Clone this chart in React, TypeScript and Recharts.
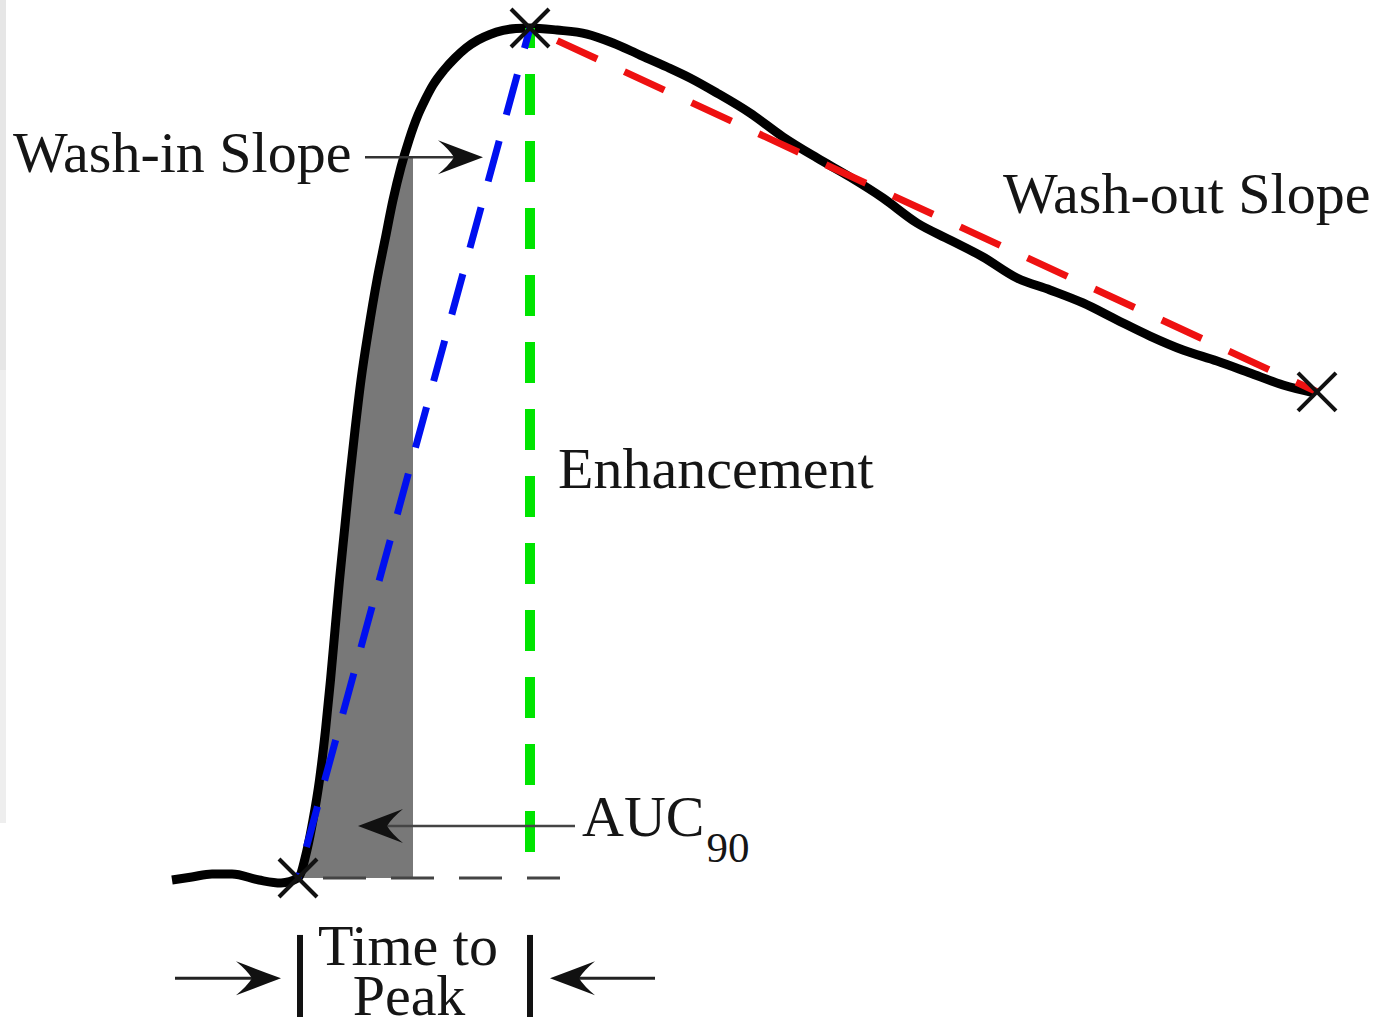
import React from 'react';
import { ComposedChart, Line, Area, Scatter, XAxis, YAxis } from 'recharts';

// ---- data (time units, signal in % of peak enhancement) ----
const curveTime = [
  -12.6, -10.6, -8.6, -6.6, -3.9, -1.7,
  0, 0.9, 1.5, 2.15, 2.75, 3.25, 3.7, 4.15, 4.65, 5.15, 5.7, 6.3, 7.05, 7.9, 8.7, 9.5, 10.3, 11.1, 12.0, 12.7, 13.5, 14.6, 15.7, 16.8, 18.0, 19.2, 20.5, 21.8, 23.2,
  25.9, 28.9, 31.5, 34.2, 36.9, 39.2, 41.9, 45.2, 48.5, 51.9, 55.2, 58.5, 61.9, 65.2, 68.5, 71.9, 75.2, 78.5, 81.9, 85.2, 88.5, 91.9, 95.2, 98.5, 101.7,
];
const curveSignal = [
  -0.24, 0.12, 0.47, 0.47, -0.24, -0.59,
  0, 3.29, 6.82, 11.53, 17.41, 23.29, 29.18, 35.06, 40.94, 46.82, 52.71, 58.59, 64.47, 70.35, 75.06, 79.76, 83.65, 86.82, 89.76, 91.53, 93.29, 95.06, 96.47, 97.65, 98.59, 99.24, 99.71, 99.95, 100,
  99.76, 99.29, 98.24, 96.82, 95.41, 94.12, 92.35, 90.0, 87.18, 84.71, 82.47, 80.0, 77.06, 75.06, 73.06, 70.59, 69.18, 67.65, 65.65, 63.76, 62.12, 60.82, 59.41, 58.0, 57.06,
];

// AUC90 shaded region: under the curve from t=0, clipped at the top level
const aucTopLeftTime = 10.6;
const aucEndTime = 11.5;
const aucTopSignal = 84.8;

const markerTime = [0, 23.2, 101.9];
const markerSignal = [0, 100, 57.2];

const washInTime = [23.2, 0];
const washInSignal = [100, 0];
const enhTime = [23.2, 23.2];
const enhSignal = [100, 2.47];
const washOutTime = [23.2, 101.9];
const washOutSignal = [100, 57.2];
const baseTime = [2.5, 26.2];
const baseSignal = [0, 0];

const labelTexts = ['Wash-in Slope', 'Wash-out Slope', 'Enhancement', 'AUC', 'Time to', 'Peak'];
const labelTime = [-28.5, 70.5, 26.0, 28.4, 11.0, 11.1];
const labelSignal = [83.06, 78.24, 45.88, 4.94, -10.24, -16.12];
const labelAnchor = ['start', 'start', 'start', 'start', 'middle', 'middle'];
const labelSub = ['', '', '', '90', '', ''];

const headTime = [18.5, 6.0, -1.7, 25.2];
const headSignal = [84.8, 6.12, -11.8, -11.8];
const headDir = [1, -1, 1, -1];

const shafts = [
  { t: [6.7, 17.0], s: [84.8, 84.8], w: 2.5, c: '#333' },
  { t: [8.0, 27.7], s: [6.12, 6.12], w: 2.5, c: '#444' },
  { t: [-12.3, -3.5], s: [-11.8, -11.8], w: 3, c: '#222' },
  { t: [27.0, 35.7], s: [-11.8, -11.8], w: 3, c: '#222' },
  { t: [0.2, 0.2], s: [-6.7, -16.35], w: 6, c: '#111' },
  { t: [23.2, 23.2], s: [-6.7, -16.35], w: 6, c: '#111' },
];

// ---- derived tables ----
const zip = (ts: number[], ss: number[]) => ts.map((t, i) => ({ t, s: ss[i] }));
const curveData = zip(curveTime, curveSignal);
const aucData = [
  ...curveData.filter((p) => p.t >= 0 && p.t < aucTopLeftTime),
  { t: aucTopLeftTime, s: aucTopSignal },
  { t: aucEndTime, s: aucTopSignal },
];
const markerData = zip(markerTime, markerSignal);
const labelData = labelTexts.map((label, i) => ({
  t: labelTime[i], s: labelSignal[i], label, anchor: labelAnchor[i], sub: labelSub[i],
}));
const headData = headTime.map((t, i) => ({ t, s: headSignal[i], dir: headDir[i] }));

const FONT = '"Liberation Serif", "Times New Roman", Times, serif';

const Cross = (props: any) => {
  const { cx, cy } = props;
  const r = 19;
  return (
    <g stroke="#111" strokeWidth={4}>
      <line x1={cx - r} y1={cy - r} x2={cx + r} y2={cy + r} />
      <line x1={cx - r} y1={cy + r} x2={cx + r} y2={cy - r} />
    </g>
  );
};

const Head = (props: any) => {
  const { cx, cy, payload } = props;
  return (
    <path
      transform={`translate(${cx},${cy}) scale(${payload.dir},1)`}
      d="M0,0 Q-24,-9 -45,-17 Q-34,-8 -29,0 Q-34,8 -45,17 Q-24,9 0,0 Z"
      fill="#111"
    />
  );
};

const Label = (props: any) => {
  const { cx, cy, payload } = props;
  return (
    <text x={cx} y={cy} textAnchor={payload.anchor} fontSize={58} fontFamily={FONT} fill="#151515">
      {payload.label}
      {payload.sub ? (
        <tspan dx={2} dy={26} fontSize={43}>{payload.sub}</tspan>
      ) : null}
    </text>
  );
};

export default function App() {
  return (
    <div style={{ position: 'absolute', left: 0, top: 0, width: 1381, height: 1017, background: '#fff' }}>
      <div style={{ position: 'absolute', left: 0, top: 0, width: 6, height: 370, background: '#e6e6e6' }} />
      <div style={{ position: 'absolute', left: 0, top: 370, width: 6, height: 453, background: '#eeeeee' }} />
      <div style={{ position: 'absolute', left: 0, top: 0 }}>
        <ComposedChart width={1381} height={1017} margin={{ top: 0, right: 0, bottom: 0, left: 0 }}>
          <XAxis type="number" dataKey="t" domain={[-29.8, 108.3]} allowDataOverflow hide />
          <YAxis type="number" dataKey="s" domain={[-16.353, 103.294]} allowDataOverflow hide />

          <Area data={aucData} dataKey="s" type="linear" baseValue={0} fill="#787878" fillOpacity={1}
            stroke="#666" strokeWidth={1} isAnimationActive={false} dot={false} activeDot={false} />

          <Line data={zip(baseTime, baseSignal)} dataKey="s" type="linear"
            stroke="#444" strokeWidth={3} strokeDasharray="43 25" dot={false} activeDot={false} isAnimationActive={false} />

          <Line data={curveData} dataKey="s" type="monotone" stroke="#000" strokeWidth={9}
            dot={false} activeDot={false} isAnimationActive={false} />

          <Line data={zip(enhTime, enhSignal)} dataKey="s" type="linear" stroke="#00e400" strokeWidth={10}
            strokeDasharray="41 26" strokeDashoffset={21} dot={false} activeDot={false} isAnimationActive={false} />

          <Line data={zip(washInTime, washInSignal)} dataKey="s" type="linear" stroke="#0010f0" strokeWidth={7}
            strokeDasharray="42 27" strokeDashoffset={21} dot={false} activeDot={false} isAnimationActive={false} />

          <Line data={zip(washOutTime, washOutSignal)} dataKey="s" type="linear" stroke="#ee1111" strokeWidth={7}
            strokeDasharray="44 30" strokeDashoffset={44} dot={false} activeDot={false} isAnimationActive={false} />

          {shafts.map((sh, i) => (
            <Line key={i} data={zip(sh.t, sh.s)} dataKey="s" type="linear" stroke={sh.c} strokeWidth={sh.w}
              dot={false} activeDot={false} isAnimationActive={false} />
          ))}

          <Scatter data={headData} shape={<Head />} isAnimationActive={false} />
          <Scatter data={markerData} shape={<Cross />} isAnimationActive={false} />
          <Scatter data={labelData} shape={<Label />} isAnimationActive={false} />
        </ComposedChart>
      </div>
    </div>
  );
}
